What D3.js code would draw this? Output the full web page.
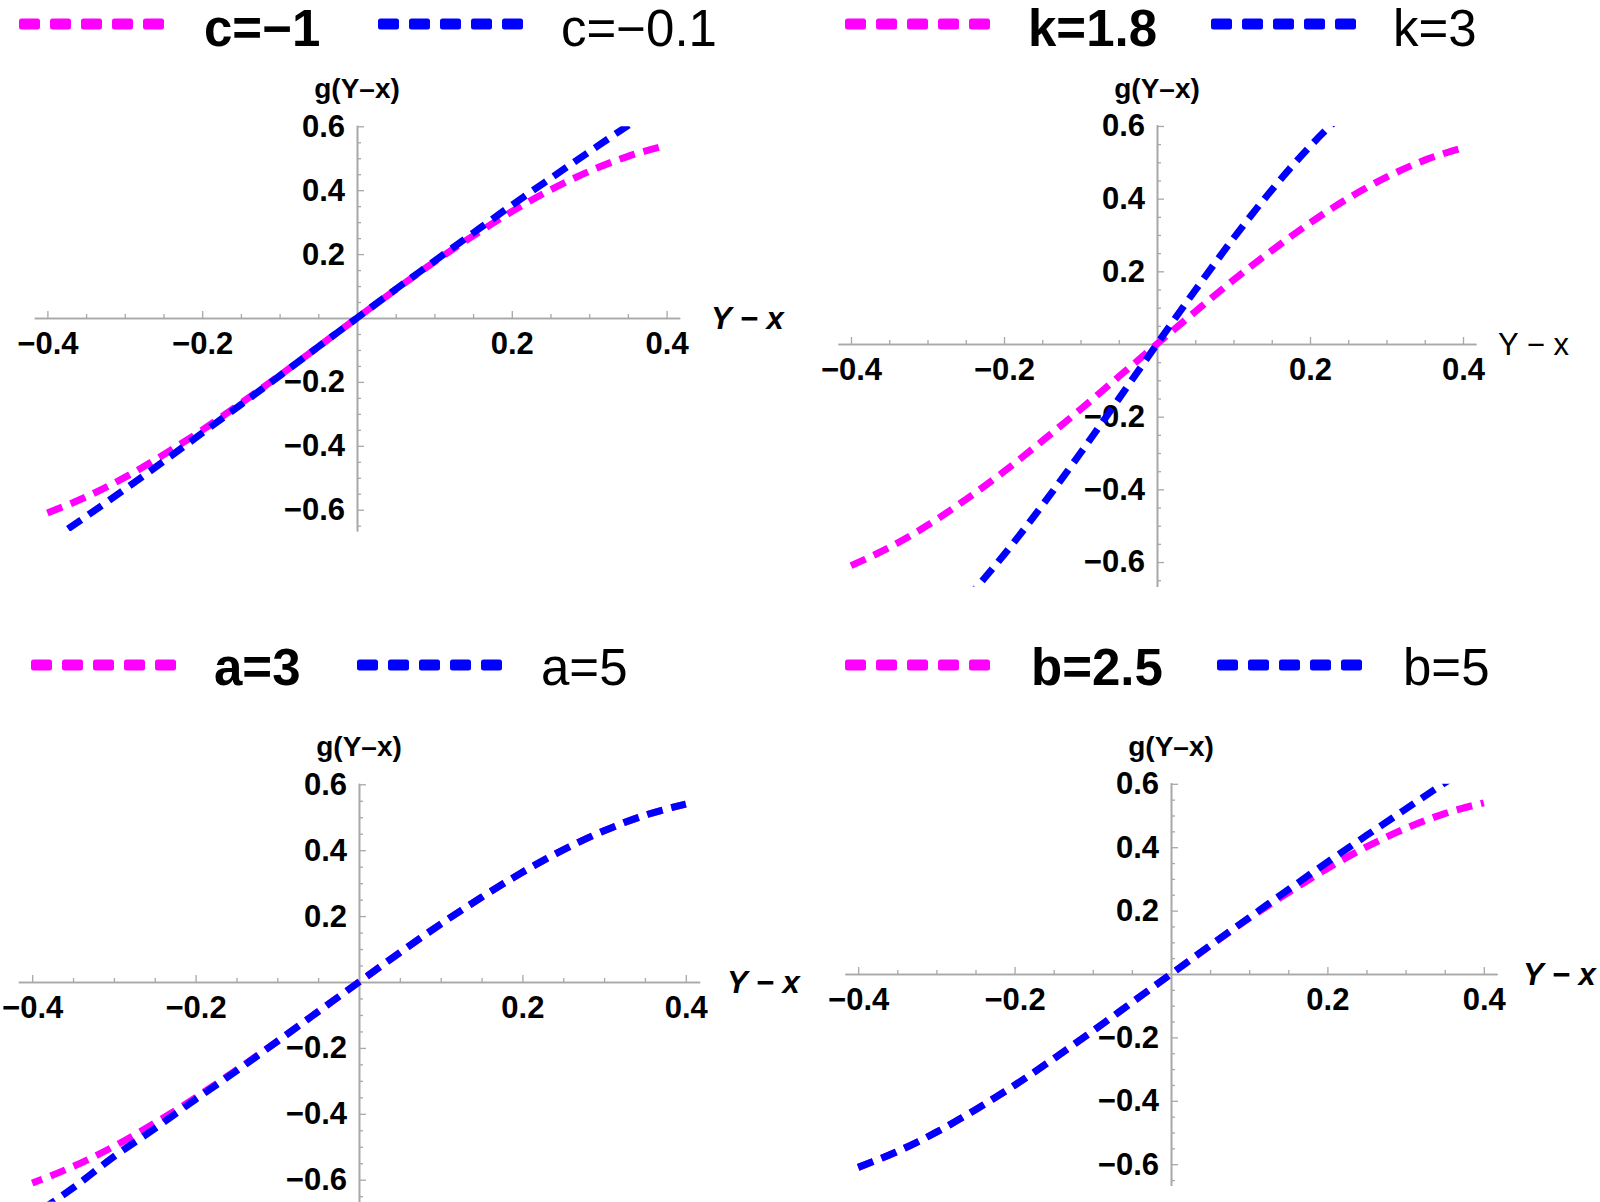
<!DOCTYPE html>
<html><head><meta charset="utf-8">
<script src="https://cdn.jsdelivr.net/npm/d3@7"></script>
<style>
html,body{margin:0;padding:0;background:#fff;}
svg{display:block;}
</style></head>
<body>
<svg id="chart" width="1600" height="1202"></svg>
<script>
// ---------- data ----------
const xGrid   = [-0.4,-0.35,-0.3,-0.25,-0.2,-0.15,-0.1,-0.05,0,0.05,0.1,0.15,0.2,0.25,0.3,0.35,0.4];
const xGridK3 = [-0.25,-0.2,-0.15,-0.1,-0.05,0,0.05,0.1,0.15,0.2,0.25];

// panel 1 : c
const gCm1  = [-0.610,-0.560,-0.499,-0.428,-0.351,-0.267,-0.180,-0.090,0,0.089,0.176,0.257,0.333,0.401,0.459,0.506,0.540];
const gCm01 = [-0.704,-0.621,-0.536,-0.449,-0.360,-0.271,-0.181,-0.090,0,0.090,0.178,0.266,0.353,0.437,0.520,0.602,0.680];
// panel 2 : k
const gK18  = [-0.610,-0.560,-0.499,-0.428,-0.351,-0.267,-0.180,-0.090,0,0.089,0.176,0.257,0.333,0.401,0.459,0.506,0.540];
const gK3   = [-0.704,-0.580,-0.444,-0.300,-0.151,0,0.148,0.291,0.424,0.544,0.647];
// panel 3 : a
const gA3   = [-0.610,-0.560,-0.499,-0.428,-0.351,-0.267,-0.180,-0.090,0,0.089,0.176,0.257,0.333,0.401,0.459,0.506,0.540];
const gA5   = [-0.710,-0.625,-0.530,-0.445,-0.356,-0.270,-0.180,-0.090,0,0.089,0.176,0.257,0.333,0.401,0.459,0.506,0.540];
// panel 4 : b
const gB25  = [-0.610,-0.560,-0.499,-0.428,-0.351,-0.267,-0.180,-0.090,0,0.089,0.176,0.257,0.333,0.401,0.459,0.506,0.540];
const gB5   = [-0.610,-0.560,-0.499,-0.428,-0.351,-0.267,-0.180,-0.090,0,0.090,0.178,0.266,0.353,0.437,0.520,0.603,0.680];

const legendLabels = [["c=\u22121","c=\u22120.1"],["k=1.8","k=3"],["a=3","a=5"],["b=2.5","b=5"]];
const xMajorTicks = [-0.4,-0.2,0.2,0.4];
const xMinorTicks = [-0.35,-0.3,-0.25,-0.15,-0.1,-0.05,0.05,0.1,0.15,0.25,0.3,0.35];
const yMajorTicks = [-0.6,-0.4,-0.2,0.2,0.4,0.6];
const yMinorTicks = [-0.65,-0.55,-0.5,-0.45,-0.35,-0.3,-0.25,-0.15,-0.1,-0.05,0.05,0.1,0.15,0.25,0.3,0.35,0.45,0.5,0.55];
const yAxisTitle = "g(Y\u2013x)";
const xAxisTitle = "Y \u2212 x";

// ---------- layout ----------
const MAGENTA = "#ff00ff", BLUE = "#0000ff";
const xDomain = [-0.417, 0.417];
const yDomain = [-0.667, 0.603];

const panels = [
  {ox:357, oy:318, xs:774, ys:319.5, alignEnd:false,
   series:[{x:xGrid,y:gCm1,c:MAGENTA},{x:xGrid,y:gCm01,c:BLUE}],
   labels:legendLabels[0], legY:24, legBase:46, legPos:[19,204,378,561],
   xTitle:{x:711, bold:true, italic:true}},
  {ox:1157, oy:344, xs:765, ys:363.4, alignEnd:false,
   series:[{x:xGrid,y:gK18,c:MAGENTA},{x:xGridK3,y:gK3,c:BLUE}],
   labels:legendLabels[1], legY:24, legBase:46, legPos:[845,1028,1211,1393],
   xTitle:{x:1498, bold:false, italic:false}},
  {ox:359, oy:982, xs:817, ys:329.5, alignEnd:true,
   series:[{x:xGrid,y:gA3,c:MAGENTA},{x:xGrid,y:gA5,c:BLUE}],
   labels:legendLabels[2], legY:665, legBase:685, legPos:[31,214,357,541],
   xTitle:{x:727, bold:true, italic:true}},
  {ox:1171, oy:974, xs:782, ys:317, alignEnd:false,
   series:[{x:xGrid,y:gB25,c:MAGENTA},{x:xGrid,y:gB5,c:BLUE}],
   labels:legendLabels[3], legY:665, legBase:685, legPos:[845,1031,1217,1403],
   xTitle:{x:1523, bold:true, italic:true}}
];

const svg = d3.select("#chart");
const FONT = "'Liberation Sans', Arial, sans-serif";
const AXC = "#a8a8a8";
const DASH = 16, GAP = 9, PERIOD = DASH + GAP;

panels.forEach((p, i) => {
  const g = svg.append("g");
  const x = d3.scaleLinear().domain(xDomain).range([p.ox + xDomain[0]*p.xs, p.ox + xDomain[1]*p.xs]);
  const y = d3.scaleLinear().domain(yDomain).range([p.oy - yDomain[0]*p.ys, p.oy - yDomain[1]*p.ys]);

  // x axis (ticks pointing up, labels below)
  const xa = g.append("g").attr("transform", `translate(0,${y(0)})`);
  xa.call(d3.axisBottom(x).tickValues(xMinorTicks).tickSize(-4).tickSizeOuter(0).tickFormat(""));
  const xb = g.append("g").attr("transform", `translate(0,${y(0)})`);
  xb.call(d3.axisBottom(x).tickValues(xMajorTicks).tickSize(-7).tickSizeOuter(0).tickPadding(14)
     .tickFormat(d => d3.format(".1f")(d).replace("-", "\u2212")));
  // y axis (ticks pointing right, labels left)
  const ya = g.append("g").attr("transform", `translate(${x(0)},0)`);
  ya.call(d3.axisLeft(y).tickValues(yMinorTicks).tickSize(-4).tickSizeOuter(0).tickFormat(""));
  const yb = g.append("g").attr("transform", `translate(${x(0)},0)`);
  yb.call(d3.axisLeft(y).tickValues(yMajorTicks).tickSize(-7).tickSizeOuter(0).tickPadding(12)
     .tickFormat(d => d3.format(".1f")(d).replace("-", "\u2212")));

  [xa, xb, ya, yb].forEach(a => {
    a.selectAll("path.domain").attr("stroke", AXC).attr("stroke-width", 1.6);
    a.selectAll(".tick line").attr("stroke", AXC).attr("stroke-width", 1.3);
    a.selectAll(".tick text").attr("fill", "#000").attr("font-family", FONT)
      .attr("font-size", 31).attr("font-weight", "bold");
  });
  xb.selectAll(".tick text").attr("dy", "0.71em");

  // axis titles
  g.append("text").attr("x", x(0)).attr("y", y(yDomain[1]) - 27)
    .attr("text-anchor", "middle").attr("font-family", FONT).attr("font-size", 28)
    .attr("font-weight", "bold").text(yAxisTitle);
  g.append("text").attr("x", p.xTitle.x).attr("y", y(0) + 11)
    .attr("font-family", FONT).attr("font-size", 31)
    .attr("font-weight", p.xTitle.bold ? "bold" : "normal")
    .attr("font-style", p.xTitle.italic ? "italic" : "normal")
    .text(xAxisTitle);

  // clip
  const cid = "clip" + i;
  svg.append("clipPath").attr("id", cid).append("rect")
    .attr("x", x.range()[0]).attr("y", y(0.6))
    .attr("width", x.range()[1] - x.range()[0]).attr("height", y(yDomain[0]) - y(0.6));

  const line = d3.line().curve(d3.curveMonotoneX).x(d => x(d[0])).y(d => y(d[1]));
  p.series.forEach(s => {
    const pts = s.x.map((v, j) => [v, s.y[j]]);
    const path = g.append("path").attr("clip-path", `url(#${cid})`)
      .attr("d", line(pts))
      .attr("fill", "none").attr("stroke", s.c).attr("stroke-width", 7)
      .attr("stroke-dasharray", `${DASH},${GAP}`);
    if (p.alignEnd) {
      // align dash phase at the right end (ending on a dash), where the two curves coincide
      const L = path.node().getTotalLength();
      path.attr("stroke-dashoffset", ((DASH - 1 - (L % PERIOD)) % PERIOD + PERIOD) % PERIOD);
    }
  });

  // legend
  const cols = [MAGENTA, BLUE];
  [0, 1].forEach(k => {
    const dx = p.legPos[k*2], tx = p.legPos[k*2+1];
    for (let m = 0; m < 5; m++) {
      g.append("rect").attr("x", dx + m*31).attr("y", p.legY - 5.5)
        .attr("width", 21).attr("height", 11).attr("rx", 2.5)
        .attr("fill", cols[k]);
    }
    g.append("text").attr("x", tx).attr("y", p.legBase)
      .attr("font-family", FONT).attr("font-size", 51)
      .attr("font-weight", k === 0 ? "bold" : "normal")
      .text(p.labels[k]);
  });
});
</script>
</body></html>
